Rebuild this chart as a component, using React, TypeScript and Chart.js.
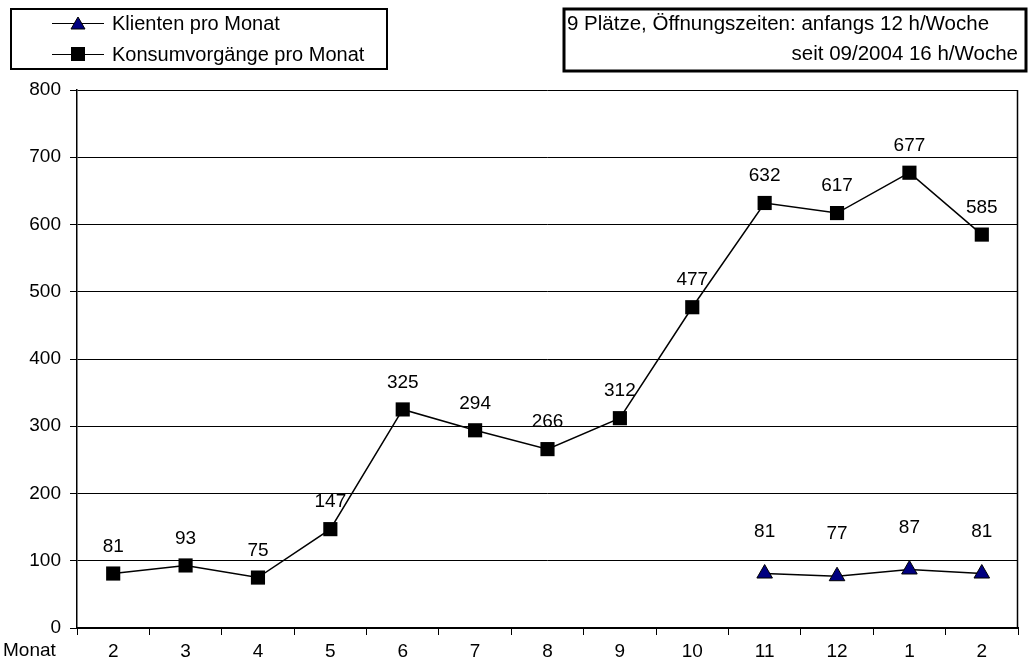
import React, { useEffect, useRef } from "react";
import { Chart, registerables } from "chart.js";

Chart.register(...registerables);

const months = ["2", "3", "4", "5", "6", "7", "8", "9", "10", "11", "12", "1", "2"];
const konsum = [81, 93, 75, 147, 325, 294, 266, 312, 477, 632, 617, 677, 585];
const klienten = [null, null, null, null, null, null, null, null, null, 81, 77, 87, 81];
const yTicks = [0, 100, 200, 300, 400, 500, 600, 700, 800];
const legendLabels = ["Klienten pro Monat", "Konsumvorgänge pro Monat"];
const noteLines = ["9 Plätze, Öffnungszeiten: anfangs 12 h/Woche", "seit 09/2004 16 h/Woche"];
const axisName = "Monat";

const FONT = "'Liberation Sans', Arial, sans-serif";
const NAVY = "#000080";

const overlay = {
  id: "overlay",
  afterDatasetsDraw(chart: any) {
    const ctx = chart.ctx;
    const area = chart.chartArea;
    ctx.save();
    // right border
    ctx.strokeStyle = "#000";
    ctx.lineWidth = 1.5;
    ctx.beginPath();
    ctx.moveTo(area.right - 0.5, area.top);
    ctx.lineTo(area.right - 0.5, area.bottom);
    ctx.stroke();

    // data labels
    ctx.fillStyle = "#000";
    ctx.font = "19px " + FONT;
    ctx.textAlign = "center";
    ctx.textBaseline = "middle";
    chart.data.datasets.forEach((ds: any, i: number) => {
      const meta = chart.getDatasetMeta(i);
      const off = i === 0 ? 42 : 27;
      meta.data.forEach((pt: any, j: number) => {
        const v = ds.data[j];
        if (v === null || v === undefined) return;
        ctx.fillText(String(v), pt.x, pt.y - off);
      });
    });

    // axis name
    ctx.font = "19px " + FONT;
    ctx.textAlign = "left";
    ctx.fillText(axisName, 3, 651);

    // legend box
    ctx.lineWidth = 2;
    ctx.strokeRect(11, 9, 376, 60);
    ctx.font = "20px " + FONT;
    const rows = [23, 54];
    rows.forEach((ry, k) => {
      ctx.lineWidth = 1.2;
      ctx.beginPath();
      ctx.moveTo(52, ry + 0.5);
      ctx.lineTo(104, ry + 0.5);
      ctx.stroke();
      if (k === 0) {
        ctx.fillStyle = NAVY;
        ctx.lineWidth = 1;
        ctx.beginPath();
        ctx.moveTo(78, ry - 6);
        ctx.lineTo(85, ry + 6);
        ctx.lineTo(71, ry + 6);
        ctx.closePath();
        ctx.fill();
        ctx.stroke();
      } else {
        ctx.fillStyle = "#000";
        ctx.fillRect(71, ry - 7, 14, 14);
      }
      ctx.fillStyle = "#000";
      ctx.textAlign = "left";
      ctx.fillText(legendLabels[k], 112, ry + 1);
    });

    // note box
    ctx.lineWidth = 3;
    ctx.strokeRect(564, 9, 462, 62);
    ctx.font = "20.5px " + FONT;
    ctx.textAlign = "left";
    ctx.fillText(noteLines[0], 567, 24);
    ctx.textAlign = "right";
    ctx.fillText(noteLines[1], 1018, 54);
    ctx.restore();
  },
};

export default function App() {
  const ref = useRef<HTMLCanvasElement>(null);
  useEffect(() => {
    if (!ref.current) return;
    const chart = new Chart(ref.current, {
      type: "line",
      data: {
        labels: months,
        datasets: [
          {
            label: legendLabels[0],
            data: klienten,
            borderColor: "#000",
            borderWidth: 1.5,
            backgroundColor: NAVY,
            pointStyle: "triangle",
            pointRadius: 9,
            pointBorderColor: "#000",
            pointBorderWidth: 1,
            pointBackgroundColor: NAVY,
            spanGaps: false,
          },
          {
            label: legendLabels[1],
            data: konsum,
            borderColor: "#000",
            borderWidth: 1.5,
            backgroundColor: "#000",
            pointStyle: "rect",
            pointRadius: 10,
            pointBorderWidth: 0,
            pointBackgroundColor: "#000",
          },
        ],
      },
      options: {
        responsive: false,
        animation: false,
        layout: { padding: { top: 90, right: 5, left: 0, bottom: 0 } },
        plugins: { legend: { display: false }, tooltip: { enabled: false } },
        scales: {
          x: {
            offset: true,
            grid: {
              offset: true,
              drawOnChartArea: false,
              drawTicks: true,
              tickLength: 7,
              color: "#000",
            },
            border: { color: "#000", width: 2 },
            ticks: {
              color: "#000",
              font: { family: FONT, size: 19 },
              padding: 5,
              maxRotation: 0,
              autoSkip: false,
            },
            afterFit: (s: any) => {
              s.height = 40;
            },
          },
          y: {
            min: 0,
            max: 800,
            afterBuildTicks: (s: any) => {
              s.ticks = yTicks.map((v) => ({ value: v }));
            },
            grid: { color: "#000", tickLength: 7, lineWidth: 1 },
            border: { color: "#000", width: 1.5 },
            ticks: {
              color: "#000",
              font: { family: FONT, size: 19 },
              padding: 9,
            },
            afterFit: (s: any) => {
              s.width = 77;
            },
          },
        },
      },
      plugins: [overlay],
    });
    return () => chart.destroy();
  }, []);
  return (
    <canvas
      ref={ref}
      width={1028}
      height={668}
      style={{ position: "absolute", left: 0, top: 0, width: 1028, height: 668 }}
    />
  );
}
